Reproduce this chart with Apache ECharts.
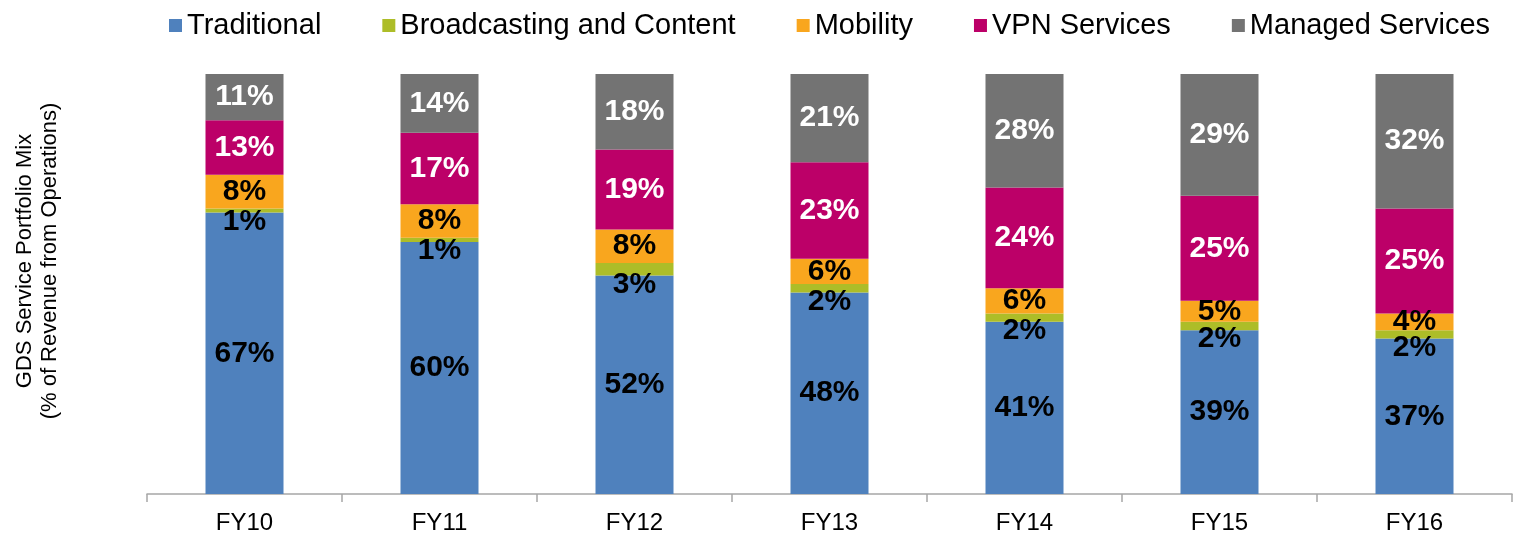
<!DOCTYPE html>
<html>
<head>
<meta charset="utf-8">
<script src="https://cdn.jsdelivr.net/npm/echarts@6/dist/echarts.min.js"></script>
<style>
  html, body { margin: 0; padding: 0; background: #fff; }
  #main { width: 1515px; height: 535px; }
</style>
</head>
<body>
<div id="main"></div>
<script>
var years = ["FY10", "FY11", "FY12", "FY13", "FY14", "FY15", "FY16"];
var traditional = [67, 60, 52, 48, 41, 39, 37];
var broadcasting = [1, 1, 3, 2, 2, 2, 2];
var mobility = [8, 8, 8, 6, 6, 5, 4];
var vpn = [13, 17, 19, 23, 24, 25, 25];
var managed = [11, 14, 18, 21, 28, 29, 32];

var FONT = "Liberation Sans, Arial, sans-serif";

function makeSeries(name, data, color, labelColor, labelPos, dist) {
    return {
        type: "bar",
        name: name,
        stack: "mix",
        data: data,
        barWidth: "40%",
        itemStyle: { color: color },
        label: {
            show: true,
            position: labelPos,
            distance: dist,
            formatter: "{c}%",
            color: labelColor,
            fontFamily: FONT,
            fontWeight: "bold",
            fontSize: 30
        }
    };
}

var chart = echarts.init(document.getElementById("main"));
chart.setOption({
    animation: false,
    textStyle: { fontFamily: FONT },
    legend: {
        left: 164,
        top: 6,
        itemWidth: 13,
        itemHeight: 13,
        itemGap: 61,
        icon: "rect",
        textStyle: { fontSize: 29, color: "#000", fontFamily: FONT }
    },
    grid: { left: 147, right: 3, top: 74, bottom: 41 },
    xAxis: {
        type: "category",
        data: years,
        axisLine: { lineStyle: { color: "#a6a6a6", width: 1.5 } },
        axisTick: { show: true, length: 8, lineStyle: { color: "#a6a6a6", width: 1.5 } },
        axisLabel: { color: "#000", fontSize: 24, margin: 17, fontFamily: FONT }
    },
    yAxis: {
        type: "value",
        min: 0,
        max: 100,
        show: false
    },
    graphic: [{
        type: "text",
        x: 37,
        y: 261,
        rotation: Math.PI / 2,
        style: {
            text: "GDS Service Portfolio Mix\n(% of Revenue from Operations)",
            fontSize: 22,
            lineHeight: 25,
            fontFamily: FONT,
            fill: "#000",
            align: "center",
            verticalAlign: "middle"
        }
    }],
    series: [
        makeSeries("Traditional", traditional, "#4f81bd", "#000", "inside", 5),
        makeSeries("Broadcasting and Content", broadcasting, "#adbd28", "#000", "bottom", -6),
        makeSeries("Mobility", mobility, "#f9a61e", "#000", "inside", 5),
        makeSeries("VPN Services", vpn, "#bc0068", "#fff", "inside", 5),
        makeSeries("Managed Services", managed, "#737373", "#fff", "inside", 5)
    ]
});
</script>
</body>
</html>
